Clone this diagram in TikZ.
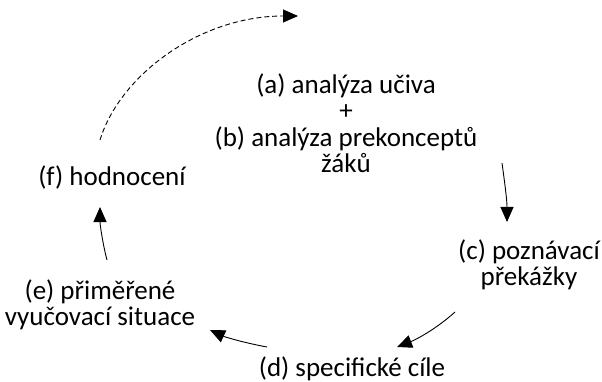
\documentclass[tikz,border=0pt]{standalone}
\usepackage{fontspec}
\setmainfont{Carlito}
\usetikzlibrary{arrows.meta}
\tikzset{stage/.style={align=center,inner sep=0pt,font=\fontsize{27}{26.5}\selectfont},
 arrow/.style={-{Triangle[length=15pt,width=13pt]},line width=0.9pt},
 back/.style={arrow,dash pattern=on 5pt off 3pt}}

\begin{document}
\begin{tikzpicture}[x=1pt,y=-1pt]
 \useasboundingbox (0,0) rectangle (602,382);
 \node[stage] (ab) at (346,123) {(a) analýza učiva\\+\\(b) analýza prekonceptů\\žáků};
 \node[stage] (c) at (529,265) {(c) poznávací\\překážky};
 \node[stage] (d) at (352,369) {(d) specifické cíle};
 \node[stage] (e) at (100,305) {(e) přiměřené\\vyučovací situace};
 \node[stage] (f) at (112,177) {(f) hodnocení};
 % ends of the cycle arrows
 \coordinate (ab-out) at (502,163);
 \coordinate (c-in) at (507,222);
 \coordinate (c-out) at (455,312);
 \coordinate (d-in) at (397,347);
 \coordinate (d-out) at (267,347);
 \coordinate (e-in) at (210,330);
 \coordinate (e-out) at (107,260);
 \coordinate (f-in) at (100,207);
 \coordinate (f-out) at (100,140);
 \coordinate (top) at (298,16);
 \draw[arrow] (ab-out) .. controls (505,185) and (507,200) .. (c-in);
 \draw[arrow] (c-out) .. controls (435,330) and (415,340) .. (d-in);
 \draw[arrow] (d-out) .. controls (245,343) and (225,337) .. (e-in);
 \draw[arrow] (e-out) .. controls (103,245) and (100,225) .. (f-in);
 \draw[back] (f-out) .. controls (120,75) and (200,16) .. (top);
\end{tikzpicture}
\end{document}
